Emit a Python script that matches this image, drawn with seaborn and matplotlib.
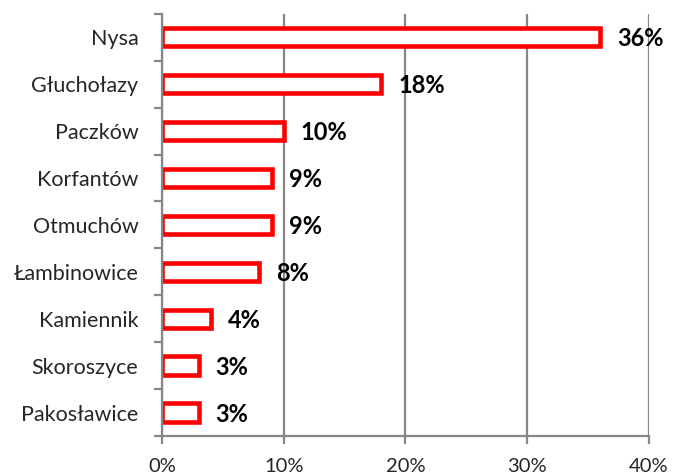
import matplotlib
matplotlib.use("Agg")
import matplotlib.pyplot as plt
import seaborn as sns
import numpy as np

cities = ["Nysa", "Głuchołazy", "Paczków", "Korfantów", "Otmuchów",
          "Łambinowice", "Kamiennik", "Skoroszyce", "Pakosławice"]
shares = [36, 18, 10, 9, 9, 8, 4, 3, 3]
xticks = [0, 10, 20, 30, 40]

sns.set_style("white")
plt.rcParams['font.family'] = ['Lato', 'DejaVu Sans']

fig = plt.figure(figsize=(6.78, 4.76), dpi=100)
ax = fig.add_axes([0.239, 0.084, 0.718, 0.887])

grid_col = "#878787"
ax.set_axisbelow(True)
ax.grid(axis="x", color=grid_col, linewidth=1.6)

sns.barplot(x=shares, y=cities, orient="h", color="white", saturation=1,
            edgecolor="#ff0000", linewidth=3.3, width=0.39, ax=ax)

for i, v in enumerate(shares):
    ax.annotate(f"{v}%", xy=(v, i), xytext=(17, -1.5), textcoords="offset pixels",
                ha="left", va="center", fontsize=17, fontweight="bold", color="black")

ax.set_xlim(0, 40)
ax.set_xticks(xticks)
ax.set_xticklabels([f"{t}%" for t in xticks], fontsize=14.5)
ax.set_ylabel("")
ax.set_xlabel("")
ax.tick_params(axis="y", which="major", length=0, pad=17, labelsize=15.5)
ax.set_yticks(np.arange(-0.5, len(cities), 1), minor=True)
ax.tick_params(axis="y", which="minor", length=6, width=1.6, color=grid_col, direction="out")
ax.tick_params(axis="x", which="major", length=5.5, width=1.6, color=grid_col,
               direction="out", pad=10.5, bottom=True)
ax.tick_params(axis="y", left=True, which="minor")

for s in ["top", "right"]:
    ax.spines[s].set_visible(False)
for s in ["left", "bottom"]:
    ax.spines[s].set_color(grid_col)
    ax.spines[s].set_linewidth(1.6)

fig.savefig("out.png", dpi=100)
